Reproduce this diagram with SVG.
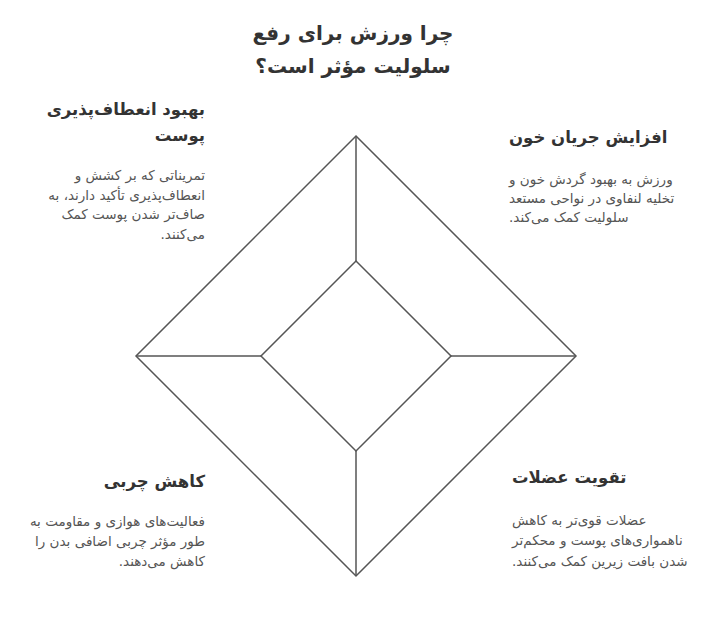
<svg xmlns="http://www.w3.org/2000/svg" width="727" height="631" viewBox="0 0 727 631">
<style>
.t{font-family:"DejaVu Sans","Liberation Sans",sans-serif;font-weight:bold;font-size:20px;fill:#333;text-anchor:middle}
.h{font-family:"DejaVu Sans","Liberation Sans",sans-serif;font-weight:bold;font-size:16.5px;fill:#333}
.b{font-family:"DejaVu Sans","Liberation Sans",sans-serif;font-size:13.5px;fill:#555}
.r{text-anchor:end}
.l{text-anchor:start}
.ln{fill:none;stroke:#555;stroke-width:1.5;stroke-linejoin:miter}
</style>
<rect width="727" height="631" fill="#fff"/>
<g id="title">
<text class="t" x="353" y="40">چرا ورزش برای رفع</text>
<text class="t" x="353" y="73">سلولیت مؤثر است؟&#x200F;</text>
</g>
<g id="connectors">
<path class="ln" d="M356 136 L576 356 L356 576 L136 356 Z"/>
<path class="ln" d="M356 261 L451 356 L356 451 L261 356 Z"/>
<path class="ln" d="M356 136 V261 M356 451 V576 M136 356 H261 M451 356 H576"/>
</g>
<g id="node-skin">
<text class="h r" x="205" y="115">بهبود انعطاف‌پذیری</text>
<text class="h r" x="205" y="141">پوست</text>
<text class="b r" x="205" y="180">تمریناتی که بر کشش و</text>
<text class="b r" x="205" y="200">انعطاف‌پذیری تأکید دارند، به&#x200F;</text>
<text class="b r" x="205" y="219">صاف‌تر شدن پوست کمک</text>
<text class="b r" x="205" y="239">می‌کنند.&#x200F;</text>
</g>
<g id="node-blood">
<text class="h l" x="509" y="143">افزایش جریان خون</text>
<text class="b l" x="509" y="184">ورزش به بهبود گردش خون و</text>
<text class="b l" x="509" y="203">تخلیه لنفاوی در نواحی مستعد</text>
<text class="b l" x="509" y="222">سلولیت کمک می‌کند.&#x200F;</text>
</g>
<g id="node-fat">
<text class="h r" x="205" y="487">کاهش چربی</text>
<text class="b r" x="205" y="526">فعالیت‌های هوازی و مقاومت به</text>
<text class="b r" x="205" y="546">طور مؤثر چربی اضافی بدن را</text>
<text class="b r" x="205" y="566">کاهش می‌دهند.&#x200F;</text>
</g>
<g id="node-muscle">
<text class="h l" x="512" y="483">تقویت عضلات</text>
<text class="b l" x="512" y="525">عضلات قوی‌تر به کاهش</text>
<text class="b l" x="512" y="545">ناهمواری‌های پوست و محکم‌تر</text>
<text class="b l" x="512" y="566">شدن بافت زیرین کمک می‌کنند.&#x200F;</text>
</g>
</svg>
